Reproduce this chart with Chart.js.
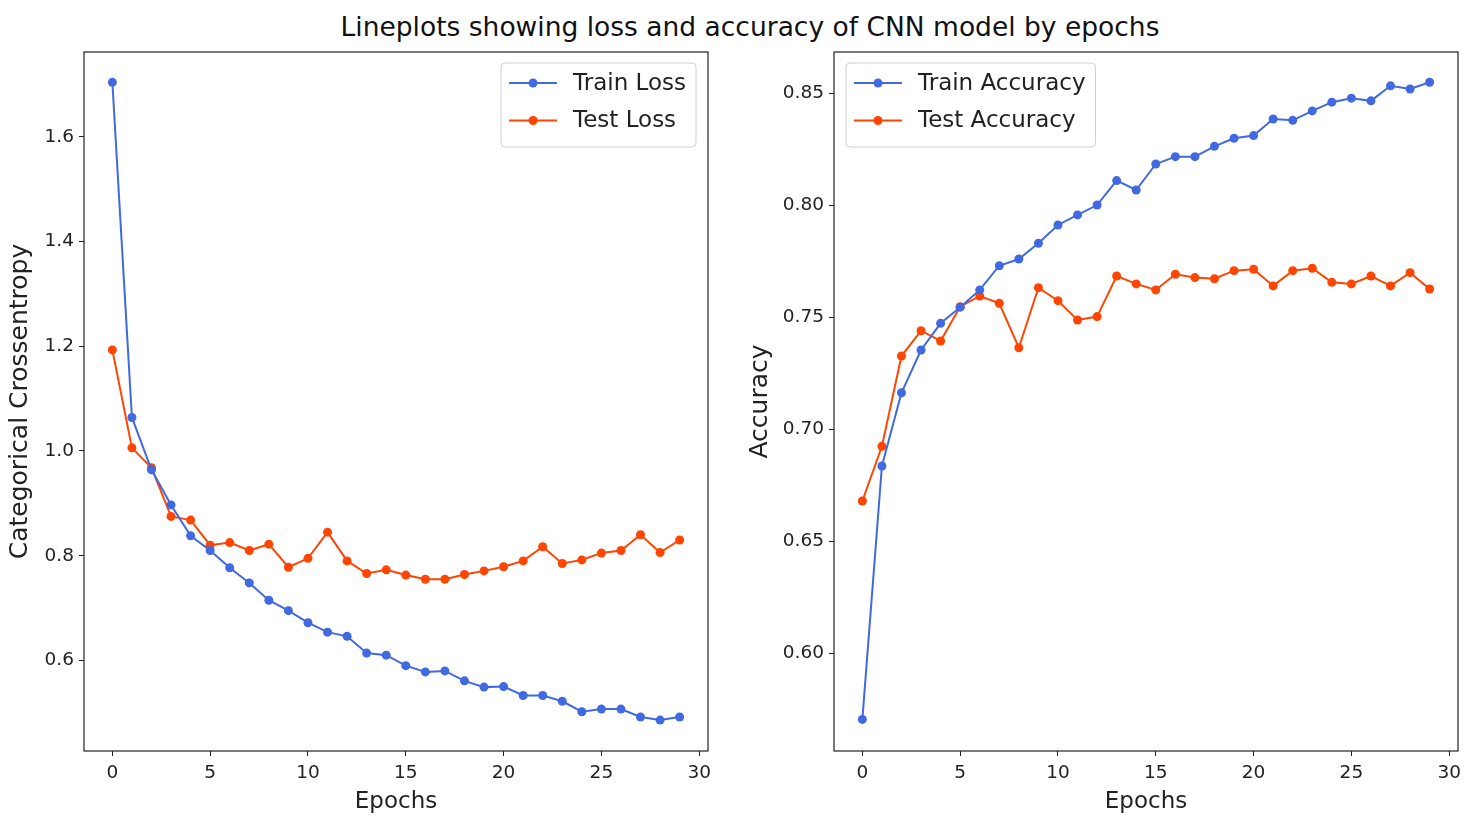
<!DOCTYPE html>
<html>
<head>
<meta charset="utf-8">
<script src="https://cdn.jsdelivr.net/npm/chart.js@4.4.1/dist/chart.umd.min.js"></script>
<style>
  body { margin: 0; background: #fff; width: 1483px; height: 819px; overflow: hidden; position: relative; font-family: "DejaVu Sans", sans-serif; }
  #title { position: absolute; left: 0; width: 1500px; top: 11px; text-align: center; font-size: 26.5px; color: #111; }
  .box { position: absolute; top: 0; height: 819px; }
</style>
</head>
<body>
<div id="title">Lineplots showing loss and accuracy of CNN model by epochs</div>
<div class="box" style="left:0;width:720px"><canvas id="lossChart"></canvas></div>
<div class="box" style="left:740px;width:730px"><canvas id="accChart"></canvas></div>
<script>
const epochs = [0,1,2,3,4,5,6,7,8,9,10,11,12,13,14,15,16,17,18,19,20,21,22,23,24,25,26,27,28,29];

const trainLoss = [1.704,1.064,0.964,0.897,0.838,0.810,0.777,0.748,0.715,0.695,0.672,0.654,0.646,0.614,0.610,
                   0.590,0.578,0.580,0.561,0.549,0.550,0.533,0.533,0.522,0.502,0.507,0.507,0.492,0.486,0.492];
const testLoss = [1.193,1.006,0.968,0.875,0.868,0.820,0.825,0.810,0.822,0.778,0.795,0.845,0.790,0.766,0.773,
                  0.763,0.755,0.755,0.764,0.771,0.779,0.790,0.817,0.785,0.792,0.805,0.810,0.840,0.806,0.830];

const trainAcc = [0.5705,0.6836,0.7163,0.7354,0.7473,0.7545,0.7622,0.7730,0.7760,0.7830,0.7912,0.7957,0.8001,0.8110,0.8068,
                  0.8184,0.8217,0.8217,0.8263,0.8299,0.8311,0.8385,0.8379,0.8421,0.8460,0.8478,0.8466,0.8533,0.8519,0.8549];
const testAcc = [0.6680,0.6924,0.7327,0.7440,0.7394,0.7547,0.7595,0.7562,0.7364,0.7632,0.7574,0.7488,0.7503,0.7684,0.7649,
                 0.7622,0.7692,0.7677,0.7672,0.7708,0.7714,0.7640,0.7708,0.7719,0.7656,0.7649,0.7684,0.7640,0.7699,0.7626];

const xTicks = [0,5,10,15,20,25,30];
const lossTicks = [0.6,0.8,1.0,1.2,1.4,1.6];
const lossTickLabels = ["0.6","0.8","1.0","1.2","1.4","1.6"];
const accTicks = [0.60,0.65,0.70,0.75,0.80,0.85];
const accTickLabels = ["0.60","0.65","0.70","0.75","0.80","0.85"];

const BLUE = "#4169E1";
const ORANGE = "#FF4500";
const FONT = "DejaVu Sans";

// frame round the plot area, like matplotlib spines
const framePlugin = {
    id: "frame",
    afterDraw(chart) {
        const a = chart.chartArea;
        const c = chart.ctx;
        c.save();
        c.strokeStyle = "#222";
        c.lineWidth = 1.2;
        c.strokeRect(a.left, a.top, a.right - a.left, a.bottom - a.top);
        c.restore();
    }
};

// legend drawn inside the plot area
const boxLegend = {
    id: "boxLegend",
    afterDraw(chart, args, opts) {
        const c = chart.ctx;
        const a = chart.chartArea;
        const ds = chart.data.datasets;
        c.save();
        c.font = "23px " + FONT;
        let w = 0;
        ds.forEach(d => { w = Math.max(w, c.measureText(d.label).width); });
        const boxW = w + 82;
        const boxH = 84;
        const x = opts.align === "right" ? a.right - 12 - boxW : a.left + 12;
        const y = a.top + 11;
        c.fillStyle = "rgba(255,255,255,0.8)";
        c.strokeStyle = "#d0d0d0";
        c.lineWidth = 1;
        c.beginPath();
        c.roundRect(x, y, boxW, boxH, 4);
        c.fill();
        c.stroke();
        ds.forEach((d, i) => {
            const ly = y + 20 + i * 37.5;
            c.strokeStyle = d.borderColor;
            c.lineWidth = 2;
            c.beginPath();
            c.moveTo(x + 8, ly);
            c.lineTo(x + 56, ly);
            c.stroke();
            c.fillStyle = d.borderColor;
            c.beginPath();
            c.arc(x + 32, ly, 4.5, 0, Math.PI * 2);
            c.fill();
            c.fillStyle = "#222";
            c.textBaseline = "middle";
            c.fillText(d.label, x + 72, ly + 1);
        });
        c.restore();
    }
};

function series(label, ys, color) {
    return {
        label: label,
        data: epochs.map((e, i) => ({ x: e, y: ys[i] })),
        borderColor: color,
        backgroundColor: color,
        borderWidth: 2,
        pointRadius: 4.5,
        pointBorderWidth: 0,
        pointHoverRadius: 4.5,
        tension: 0
    };
}

function makeChart(id, sets, yTicks, yLabels, yMin, yMax, yTitle, axisWidth, legendAlign) {
    const ctx = document.getElementById(id).getContext("2d");
    return new Chart(ctx, {
        type: "line",
        data: { datasets: sets },
        plugins: [framePlugin, boxLegend],
        options: {
            responsive: true,
            maintainAspectRatio: false,
            animation: false,
            layout: { padding: { top: 52, right: 12, left: 0, bottom: 0 } },
            plugins: {
                legend: { display: false },
                tooltip: { enabled: false },
                boxLegend: { align: legendAlign }
            },
            scales: {
                x: {
                    type: "linear",
                    min: -1.45,
                    max: 30.45,
                    afterBuildTicks: s => { s.ticks = xTicks.map(v => ({ value: v })); },
                    afterFit: s => { s.height = 68; },
                    ticks: {
                        color: "#222",
                        font: { family: FONT, size: 18.5 },
                        padding: 6,
                        maxRotation: 0,
                        callback: v => String(v)
                    },
                    grid: { display: true, drawOnChartArea: false, drawTicks: true, tickLength: 5, color: "#222", lineWidth: 1 },
                    border: { display: false },
                    title: { display: true, text: "Epochs", color: "#222", font: { family: FONT, size: 23 }, padding: { top: 0, bottom: 3 } }
                },
                y: {
                    min: yMin,
                    max: yMax,
                    afterBuildTicks: s => { s.ticks = yTicks.map(v => ({ value: v })); },
                    afterFit: s => { s.width = axisWidth; },
                    ticks: {
                        color: "#222",
                        font: { family: FONT, size: 18.5 },
                        padding: 5,
                        callback: v => yLabels[yTicks.findIndex(t => Math.abs(t - v) < 1e-9)]
                    },
                    grid: { display: true, drawOnChartArea: false, drawTicks: true, tickLength: 5, color: "#222", lineWidth: 1 },
                    border: { display: false },
                    title: { display: true, text: yTitle, color: "#222", font: { family: FONT, size: 25 }, padding: { top: 5, bottom: 0 } }
                }
            }
        }
    });
}

makeChart("lossChart",
    [series("Train Loss", trainLoss, BLUE), series("Test Loss", testLoss, ORANGE)],
    lossTicks, lossTickLabels, 0.427, 1.762, "Categorical Crossentropy", 84, "right");

makeChart("accChart",
    [series("Train Accuracy", trainAcc, BLUE), series("Test Accuracy", testAcc, ORANGE)],
    accTicks, accTickLabels, 0.5564, 0.8684, "Accuracy", 94, "left");
</script>
</body>
</html>
